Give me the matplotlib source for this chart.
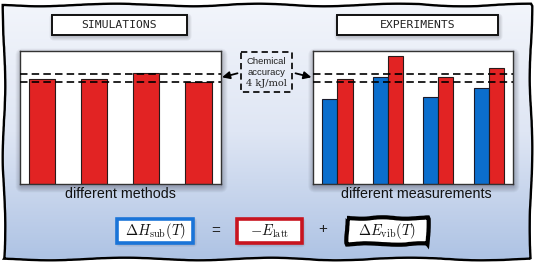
import numpy as np
import matplotlib
matplotlib.use("Agg")
import matplotlib.pyplot as plt
from matplotlib.patches import Rectangle, FancyBboxPatch
from matplotlib.colors import LinearSegmentedColormap

plt.rcParams['mathtext.fontset'] = 'cm'

# ---------------- data ----------------
sim_methods = ["M1", "M2", "M3", "M4"]
sim_values = [52.6, 52.3, 55.3, 51.0]          # lattice energies (red)
exp_measurements = ["E1", "E2", "E3", "E4"]
exp_sub_values = [42.5, 53.7, 43.3, 47.8]      # sublimation enthalpies (blue)
exp_latt_values = [52.7, 64.0, 53.5, 57.8]     # derived lattice energies (red)
accuracy_band = [51.0, 55.0]                   # chemical accuracy band (4 kJ/mol)
y_max = 66.5

RED = "#e22323"
BLUE = "#0b6ecd"

W, H = 536, 265
fig = plt.figure(figsize=(W / 100, H / 100), dpi=100)

# background axes in pixel coordinates
bg = fig.add_axes([0, 0, 1, 1], zorder=0)
bg.set_xlim(0, W)
bg.set_ylim(H, 0)
bg.axis('off')

# gradient background inside a hand-drawn frame
cmap = LinearSegmentedColormap.from_list("bgc", ["#f2f5fb", "#dfe6f4", "#aec3e4"])
grad = np.linspace(0, 1, 256).reshape(-1, 1)
frame = Rectangle((4, 5), 527, 254, facecolor='none', edgecolor='black', lw=1.7, zorder=5)
frame.set_sketch_params(scale=1.3, length=180, randomness=3)
im = bg.imshow(grad, extent=(4, 531, 259, 5), aspect='auto', cmap=cmap, zorder=0)
clip = Rectangle((4, 5), 527, 254, transform=bg.transData)
im.set_clip_path(clip)
bg.add_patch(frame)


def shadow(x0, y0, w, h, n=7, dy=3, alpha=0.045):
    for i in range(n):
        p = FancyBboxPatch((x0 - i * 0.9 + 1, y0 - i * 0.9 + dy), w + 1.8 * i, h + 1.8 * i,
                           boxstyle="round,pad=0,rounding_size=%f" % (1 + i),
                           facecolor='#1a1a2a', edgecolor='none', alpha=alpha, zorder=1)
        bg.add_patch(p)


def px_to_fig(x0, y0, x1, y1):
    return [x0 / W, 1 - y1 / H, (x1 - x0) / W, (y1 - y0) / H]


# ---------------- left panel: simulations ----------------
Lx0, Lx1, Ay0, Ay1 = 20, 221, 51, 184
shadow(Lx0, Ay0, Lx1 - Lx0, Ay1 - Ay0)
axL = fig.add_axes(px_to_fig(Lx0, Ay0, Lx1, Ay1), zorder=2)
xL = np.arange(len(sim_methods))
axL.bar(xL, sim_values, width=0.5, color=RED, edgecolor='#2a1a1a', lw=0.8)
axL.set_xlim(-0.42, 3.43)

# ---------------- right panel: experiments ----------------
Rx0, Rx1 = 312.7, 513
shadow(Rx0, Ay0, Rx1 - Rx0, Ay1 - Ay0)
axR = fig.add_axes(px_to_fig(Rx0, Ay0, Rx1, Ay1), zorder=2)
xR = np.arange(len(exp_measurements))
bw = 0.30
axR.bar(xR - bw / 2, exp_sub_values, width=bw, color=BLUE, edgecolor='#1a1a2a', lw=0.8)
axR.bar(xR + bw / 2, exp_latt_values, width=bw, color=RED, edgecolor='#2a1a1a', lw=0.8)
axR.set_xlim(-0.49, 3.48)

for ax in (axL, axR):
    ax.set_ylim(0, y_max)
    for yv in accuracy_band:
        ax.axhline(yv, color='black', lw=1.2, ls=(0, (4.5, 2.5)), zorder=3)
    ax.set_xticks([])
    ax.set_yticks([])
    for s in ax.spines.values():
        s.set_color('#333333')
        s.set_linewidth(1.0)
    ax.set_facecolor('white')

# axis labels
bg.text((Lx0 + Lx1) / 2, 193.5, "different methods", ha='center', va='center',
        fontsize=10.3, family='Liberation Sans', color='#111111', zorder=6)
bg.text(416, 193.5, "different measurements", ha='center', va='center',
        fontsize=10.3, family='Liberation Sans', color='#111111', zorder=6)

# title boxes
for (x0, x1, label) in [(52, 187, "SIMULATIONS"), (337, 498, "EXPERIMENTS")]:
    shadow(x0, 15, x1 - x0, 20, n=5, dy=2, alpha=0.05)
    bg.add_patch(Rectangle((x0, 15), x1 - x0, 20, facecolor='white', edgecolor='#111111',
                           lw=1.4, zorder=4))
    bg.text((x0 + x1) / 2, 25.5, label, ha='center', va='center', fontsize=8.2,
            family='DejaVu Sans Mono', color='#222222', zorder=5)

# chemical accuracy box
bg.add_patch(Rectangle((240.7, 52.3), 51.6, 40, facecolor='none', edgecolor='#111111',
                       lw=1.3, ls=(0, (3.5, 2.2)), zorder=4))
bg.text(266.5, 62, "Chemical", ha='center', va='center', fontsize=6.8,
        family='Liberation Sans', color='#222222', zorder=5)
bg.text(266.5, 72.5, "accuracy", ha='center', va='center', fontsize=6.8,
        family='Liberation Sans', color='#222222', zorder=5)
bg.text(266.5, 83.5, "4 kJ/mol", ha='center', va='center', fontsize=7,
        family='DejaVu Serif', color='#222222', zorder=5)
for (tx, ty, hx, hy) in [(237.5, 73.3, 222.0, 77.3), (295.5, 73.3, 311.5, 77.3)]:
    bg.annotate("", xy=(hx, hy), xytext=(tx, ty),
                arrowprops=dict(arrowstyle='-|>,head_length=0.45,head_width=0.22',
                                color='black', lw=1.3, shrinkA=0, shrinkB=0), zorder=6)

# equation
eq_fs = 10.5
shadow(117.3, 219, 76, 23.7, n=4, dy=1.5, alpha=0.05)
bg.add_patch(Rectangle((117.3, 219), 76, 23.7, facecolor='white', edgecolor='#1a74d8',
                       lw=2.6, zorder=4))
bg.text(155.3, 231, r"$\Delta H_{\mathrm{sub}}(T)$", ha='center', va='center',
        fontsize=eq_fs, color='#111111', zorder=5)
bg.text(216, 231.5, "=", ha='center', va='center', fontsize=11,
        family='Liberation Sans', color='#222222', zorder=5)
shadow(237.3, 219, 64.4, 24, n=4, dy=1.5, alpha=0.05)
bg.add_patch(Rectangle((237.3, 219), 64.4, 24, facecolor='white', edgecolor='#c8141f',
                       lw=2.6, zorder=4))
bg.text(269.5, 231, r"$-E_{\mathrm{latt}}$", ha='center', va='center',
        fontsize=eq_fs, color='#111111', zorder=5)
bg.text(322.7, 229.5, "+", ha='center', va='center', fontsize=11,
        family='Liberation Sans', color='#222222', zorder=5)
blk = Rectangle((347, 218), 81, 26, facecolor='white', edgecolor='black', lw=3.0, zorder=4)
blk.set_sketch_params(scale=0.7, length=60, randomness=3)
bg.add_patch(blk)
bg.text(387.5, 231, r"$\Delta E_{\mathrm{vib}}(T)$", ha='center', va='center',
        fontsize=eq_fs, color='#111111', zorder=5)

fig.savefig("out.png", dpi=100)
